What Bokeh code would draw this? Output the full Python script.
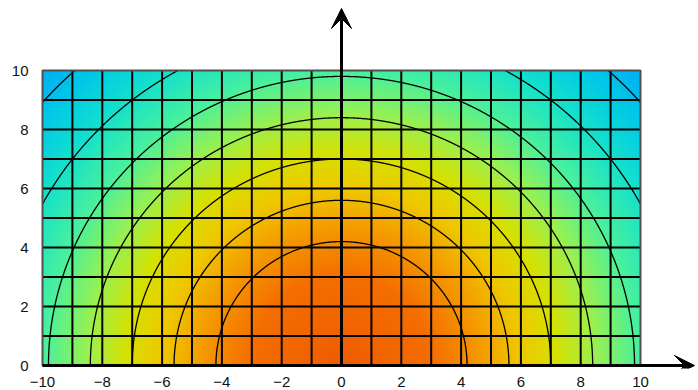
import numpy as np
from bokeh.plotting import figure
from bokeh.models import Range1d, FixedTicker, Arrow, VeeHead
from bokeh.embed import file_html
from bokeh.resources import INLINE

# Axis ticks
x_ticks = [-10, -8, -6, -4, -2, 0, 2, 4, 6, 8, 10]
y_ticks = [0, 2, 4, 6, 8, 10]

# Field extent and mesh spacing
x_lo, x_hi = -10, 10
y_lo, y_hi = 0, 10
mesh_step = 1

# Radii of the iso-lines (field depends only on distance from origin)
contour_radii = [4.2, 5.6, 7.0, 8.4, 9.8, 11.4, 13.4]

# Colour ramp along the radius
ramp_r = [0.0, 3.0, 4.5, 6.0, 7.2, 8.5, 10.0, 11.5, 13.0, 14.2]
ramp_red = [240, 244, 245, 240, 215, 155, 70, 20, 0, 0]
ramp_green = [92, 110, 150, 200, 225, 240, 240, 225, 200, 172]
ramp_blue = [0, 0, 0, 0, 0, 80, 160, 205, 232, 248]

# pixel scale
px_x = 29.9
px_y = 29.5
left_pad = 39
bottom_pad = 22
W, H = 698, 390

x_start = x_lo - 3 / px_x
x_end = x_start + (W - left_pad) / px_x
y_start = y_lo - 3 / px_y
y_end = y_start + (H - bottom_pad) / px_y

p = figure(width=W, height=H, output_backend="svg", toolbar_location=None,
           x_range=Range1d(x_start, x_end), y_range=Range1d(y_start, y_end),
           min_border_left=left_pad, min_border_right=0, min_border_top=0,
           min_border_bottom=bottom_pad)
p.outline_line_color = None
p.xgrid.visible = False
p.ygrid.visible = False
p.background_fill_color = "white"

for ax, ticks in ((p.xaxis, x_ticks), (p.yaxis, y_ticks)):
    ax.ticker = FixedTicker(ticks=ticks)
    ax.axis_line_color = None
    ax.major_tick_line_color = None
    ax.minor_tick_line_color = None
    ax.major_label_text_font = "Liberation Sans"
    ax.major_label_text_font_size = "15px"
    ax.major_label_text_color = "#111111"
p.xaxis.major_label_standoff = 2
p.yaxis.major_label_standoff = 5

# Colour field
nx, ny = 600, 300
gx = np.linspace(x_lo, x_hi, nx, endpoint=False) + (x_hi - x_lo) / nx / 2
gy = np.linspace(y_lo, y_hi, ny, endpoint=False) + (y_hi - y_lo) / ny / 2
XX, YY = np.meshgrid(gx, gy)
RR = np.sqrt(XX ** 2 + YY ** 2)
rgba = np.zeros((ny, nx, 4), dtype=np.uint8)
rgba[..., 0] = np.interp(RR, ramp_r, ramp_red).astype(np.uint8)
rgba[..., 1] = np.interp(RR, ramp_r, ramp_green).astype(np.uint8)
rgba[..., 2] = np.interp(RR, ramp_r, ramp_blue).astype(np.uint8)
rgba[..., 3] = 255
img = rgba.view(dtype=np.uint32).reshape((ny, nx))
p.image_rgba(image=[img], x=x_lo, y=y_lo, dw=x_hi - x_lo, dh=y_hi - y_lo)

# Mesh lines
vx = np.arange(x_lo + mesh_step, x_hi, mesh_step)
hy = np.arange(y_lo + mesh_step, y_hi, mesh_step)
p.segment(x0=vx, y0=[y_lo] * len(vx), x1=vx, y1=[y_hi] * len(vx),
          line_color="black", line_width=2)
p.segment(x0=[x_lo] * len(hy), y0=hy, x1=[x_hi] * len(hy), y1=hy,
          line_color="black", line_width=2)

# Iso-lines clipped to the field
theta = np.linspace(0, np.pi, 6000)
for r in contour_radii:
    cx = r * np.cos(theta)
    cy = r * np.sin(theta)
    inside = (cx >= x_lo) & (cx <= x_hi) & (cy >= y_lo) & (cy <= y_hi)
    cx = np.where(inside, cx, np.nan)
    cy = np.where(inside, cy, np.nan)
    p.line(cx, cy, line_color="black", line_width=1.3)

# Field border
p.quad(left=[x_lo], right=[x_hi], bottom=[y_lo], top=[y_hi],
       fill_color=None, line_color="#505050", line_width=2)

# Coordinate axes with arrow heads
p.add_layout(Arrow(end=VeeHead(size=20, fill_color="black", line_color="black", line_width=1),
                   x_start=0, y_start=y_lo, x_end=0, y_end=y_end - 8 / px_y,
                   line_color="black", line_width=3))
p.add_layout(Arrow(end=VeeHead(size=20, fill_color="black", line_color="black", line_width=1),
                   x_start=x_lo, y_start=0, x_end=x_end - 4 / px_x, y_end=0,
                   line_color="black", line_width=3))

open("out.html", "w").write(file_html(p, INLINE))
